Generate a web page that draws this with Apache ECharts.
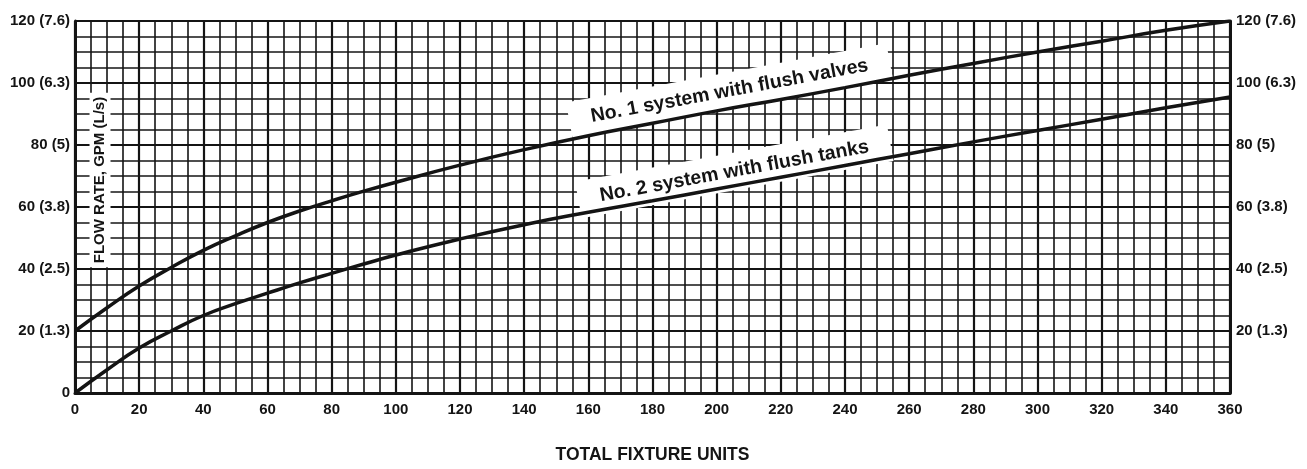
<!DOCTYPE html>
<html>
<head>
<meta charset="utf-8">
<script src="https://cdn.jsdelivr.net/npm/echarts@6/dist/echarts.min.js"></script>
<style>
  html, body { margin: 0; padding: 0; background: #fff; }
  #chart { width: 1307px; height: 469px; }
</style>
</head>
<body>
<div id="chart"></div>
<script>
// Fixture units along the x axis
const fixtureUnits = [0, 10, 20, 30, 40, 50, 60, 70, 80, 90, 100, 120, 140, 160, 180, 200, 220, 240, 260, 280, 300, 320, 340, 360];
// Demand curves, GPM
const flushValvesGpm = [20, 27.5, 34.5, 40.5, 46, 50.7, 55, 58.7, 62, 65.1, 68, 73.5, 78.5, 83, 87, 91, 94.7, 98.5, 102.5, 106.3, 110, 113.5, 117, 120];
const flushTanksGpm = [0, 7.5, 14.5, 20, 25, 28.8, 32.2, 35.5, 38.6, 41.6, 44.5, 49.7, 54.3, 58.3, 62, 65.8, 69.6, 73.4, 77.2, 81, 84.7, 88.3, 92, 95.5];

// Tick labels: GPM with L/s in brackets
const gpmTicks = [0, 20, 40, 60, 80, 100, 120];
const gpmTickText = ['0', '20 (1.3)', '40 (2.5)', '60 (3.8)', '80 (5)', '100 (6.3)', '120 (7.6)'];

const seriesNames = ['No. 1 system with flush valves', 'No. 2 system with flush tanks'];
const xTitle = 'TOTAL FIXTURE UNITS';
const yTitle = 'FLOW RATE, GPM (L/s)';

const FONT = '"Liberation Sans", Arial, Helvetica, sans-serif';
const INK = '#141414';

function tickText(v) {
  const i = gpmTicks.indexOf(v);
  return i >= 0 ? gpmTickText[i] : '';
}

const pairs = (ys) => fixtureUnits.map((x, i) => [x, ys[i]]);

const yAxisBase = {
  type: 'value', min: 0, max: 120, interval: 20,
  axisLine: { show: true, lineStyle: { color: INK, width: 3 } },
  axisTick: { show: false },
  splitLine: { show: true, lineStyle: { color: INK, width: 2.2 } },
  minorTick: { show: false, splitNumber: 4 },
  minorSplitLine: { show: true, lineStyle: { color: INK, width: 1.6 } },
  axisLabel: { color: INK, fontFamily: FONT, fontWeight: 'bold', fontSize: 15, margin: 5 }
};

const textLabel = (text, rotate, fontSize, padding) => ({
  show: true, position: 'inside', formatter: text, rotate: rotate,
  color: INK, fontFamily: FONT, fontWeight: 'bold', fontSize: fontSize,
  backgroundColor: '#fff', padding: padding, opacity: 1
});

const chart = echarts.init(document.getElementById('chart'), null, { renderer: 'canvas' });
chart.setOption({
  animation: false,
  backgroundColor: '#fff',
  grid: { left: 75, right: 77, top: 21, bottom: 69, show: false },
  xAxis: {
    type: 'value', min: 0, max: 360, interval: 20,
    name: xTitle, nameLocation: 'middle', nameGap: 53,
    nameTextStyle: { color: INK, fontFamily: FONT, fontWeight: 'bold', fontSize: 17.5 },
    axisLine: { show: true, lineStyle: { color: INK, width: 3 } },
    axisTick: { show: false },
    splitLine: { show: true, lineStyle: { color: INK, width: 2.2 } },
    minorTick: { show: false, splitNumber: 4 },
    minorSplitLine: { show: true, lineStyle: { color: INK, width: 1.6 } },
    axisLabel: { color: INK, fontFamily: FONT, fontWeight: 'bold', fontSize: 15, margin: 9 }
  },
  yAxis: [
    Object.assign({}, yAxisBase, {
      position: 'left',
      axisLabel: Object.assign({}, yAxisBase.axisLabel, { formatter: tickText })
    }),
    Object.assign({}, yAxisBase, {
      position: 'right',
      splitLine: { show: false },
      minorSplitLine: { show: false },
      axisLabel: Object.assign({}, yAxisBase.axisLabel, {
        margin: 6,
        formatter: (v) => (v === 0 ? '' : tickText(v))
      })
    })
  ],
  series: [
    {
      name: seriesNames[0], type: 'line', smooth: 0.5, symbol: 'none', z: 5,
      data: pairs(flushValvesGpm),
      lineStyle: { color: INK, width: 3.5 }
    },
    {
      name: seriesNames[1], type: 'line', smooth: 0.5, symbol: 'none', z: 5,
      data: pairs(flushTanksGpm),
      lineStyle: { color: INK, width: 3.5 }
    },
    {
      // curve captions and the vertical axis title, set on white patches
      type: 'scatter', symbolSize: 0, z: 3, silent: true,
      itemStyle: { opacity: 1 },
      emphasis: { disabled: true },
      data: [
        { value: [204, 97.4], label: textLabel(seriesNames[0], 10.5, 19.5, [12, 22, 5, 22]) },
        { value: [205.5, 71.5], label: textLabel(seriesNames[1], 10.4, 19.5, [12, 22, 5, 22]) },
        { value: [7.8, 68.7], label: textLabel(yTitle, 90, 15, [3, 4, 3, 4]) }
      ]
    }
  ]
});
</script>
</body>
</html>
